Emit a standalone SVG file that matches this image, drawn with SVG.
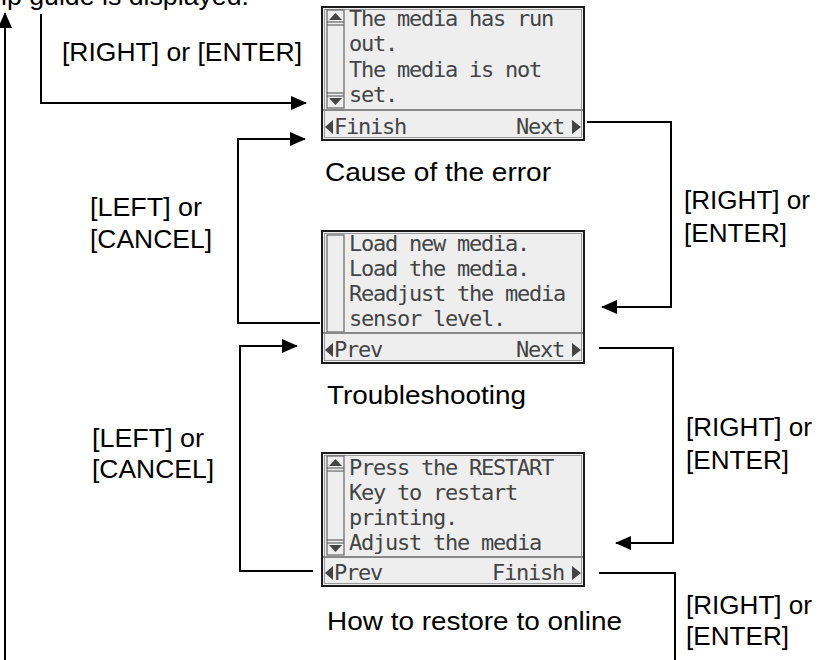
<svg xmlns="http://www.w3.org/2000/svg" width="826" height="660" viewBox="0 0 826 660">
<style>
.lbl{font-family:"Liberation Sans",Arial,sans-serif;font-size:25px;fill:#000}
.lcd{font-family:"DejaVu Sans Mono","Liberation Mono",monospace;font-size:22px;letter-spacing:-1.24px;fill:#444}
.frame{fill:#eeeeee;stroke:#1a1a1a;stroke-width:2}
.inner{fill:none;stroke:#999;stroke-width:1}
.sep{stroke:#888;stroke-width:2}
.sb{fill:#eeeeee;stroke:#666;stroke-width:1.2}
.sbl{stroke:#666;stroke-width:1.2}
.ico{fill:#444}
.conn{fill:none;stroke:#000;stroke-width:2}
</style>
<defs>
<marker id="ah" viewBox="0 0 16 14" refX="15" refY="7" markerWidth="16" markerHeight="14" markerUnits="userSpaceOnUse" orient="auto">
<path d="M0,0 L16,7 L0,14 Z" fill="#000"/>
</marker>
</defs>

<g id="connectors">
<path class="conn" d="M5,660 V13" marker-end="url(#ah)"/>
<path class="conn" d="M41,14 V103 H306" marker-end="url(#ah)"/>
<path class="conn" d="M587,122 H671 V307 H602" marker-end="url(#ah)"/>
<path class="conn" d="M320,323 H238 V139 H305" marker-end="url(#ah)"/>
<path class="conn" d="M599,348 H673 V543 H616" marker-end="url(#ah)"/>
<path class="conn" d="M313,571 H240 V346 H297" marker-end="url(#ah)"/>
<path class="conn" d="M599,573 H675 V660"/>
</g>

<g id="top-note">
<text class="lbl" x="1" y="5" textLength="248" lengthAdjust="spacingAndGlyphs">lp guide is displayed.</text>
</g>

<g id="label-right-enter-1">
<text class="lbl" x="62" y="61" textLength="240" lengthAdjust="spacingAndGlyphs">[RIGHT] or [ENTER]</text>
</g>

<g id="screen-cause">
<rect class="frame" x="322" y="7" width="262" height="133"/>
<rect class="inner" x="324.5" y="9.5" width="257" height="128"/>
<rect class="sb" x="327" y="10" width="17" height="98"/>
<line class="sbl" x1="327" y1="22" x2="344" y2="22"/>
<line class="sbl" x1="327" y1="25" x2="344" y2="25"/>
<line class="sbl" x1="327" y1="93" x2="344" y2="93"/>
<line class="sbl" x1="327" y1="96" x2="344" y2="96"/>
<polygon class="ico" points="329,20 342,20 335.5,13"/>
<polygon class="ico" points="329,98 342,98 335.5,105"/>
<line class="sep" x1="323" y1="110" x2="583" y2="110"/>
<text class="lcd" x="349" y="26">The media has run</text>
<text class="lcd" x="349" y="51">out.</text>
<text class="lcd" x="349" y="77">The media is not</text>
<text class="lcd" x="349" y="102">set.</text>
<polygon class="ico" points="325,127 333,120 333,134"/>
<text class="lcd" x="334" y="134">Finish</text>
<text class="lcd" x="516" y="134">Next</text>
<polygon class="ico" points="572,120 572,134 581,127"/>
<text class="lbl" x="325" y="181" textLength="226" lengthAdjust="spacingAndGlyphs">Cause of the error</text>
</g>

<g id="label-left-cancel-1">
<text class="lbl" x="90" y="216" textLength="112" lengthAdjust="spacingAndGlyphs">[LEFT] or</text>
<text class="lbl" x="90" y="248" textLength="122" lengthAdjust="spacingAndGlyphs">[CANCEL]</text>
</g>

<g id="label-right-enter-2">
<text class="lbl" x="684" y="209" textLength="126" lengthAdjust="spacingAndGlyphs">[RIGHT] or</text>
<text class="lbl" x="684" y="242" textLength="103" lengthAdjust="spacingAndGlyphs">[ENTER]</text>
</g>

<g id="screen-troubleshooting">
<rect class="frame" x="322" y="231" width="262" height="132"/>
<rect class="inner" x="324.5" y="233.5" width="257" height="127"/>
<rect class="sb" x="327" y="235" width="17" height="97"/>
<line class="sep" x1="323" y1="333" x2="583" y2="333"/>
<text class="lcd" x="349" y="251">Load new media.</text>
<text class="lcd" x="349" y="276">Load the media.</text>
<text class="lcd" x="349" y="301">Readjust the media</text>
<text class="lcd" x="349" y="326">sensor level.</text>
<polygon class="ico" points="325,350 333,343 333,357"/>
<text class="lcd" x="334" y="357">Prev</text>
<text class="lcd" x="516" y="357">Next</text>
<polygon class="ico" points="572,343 572,357 581,350"/>
<text class="lbl" x="327" y="404" textLength="199" lengthAdjust="spacingAndGlyphs">Troubleshooting</text>
</g>

<g id="label-left-cancel-2">
<text class="lbl" x="92" y="447" textLength="112" lengthAdjust="spacingAndGlyphs">[LEFT] or</text>
<text class="lbl" x="92" y="478" textLength="122" lengthAdjust="spacingAndGlyphs">[CANCEL]</text>
</g>

<g id="label-right-enter-3">
<text class="lbl" x="686" y="436" textLength="126" lengthAdjust="spacingAndGlyphs">[RIGHT] or</text>
<text class="lbl" x="686" y="469" textLength="103" lengthAdjust="spacingAndGlyphs">[ENTER]</text>
</g>

<g id="screen-restore">
<rect class="frame" x="322" y="453" width="262" height="133"/>
<rect class="inner" x="324.5" y="455.5" width="257" height="128"/>
<rect class="sb" x="327" y="456" width="17" height="99"/>
<line class="sbl" x1="327" y1="468" x2="344" y2="468"/>
<line class="sbl" x1="327" y1="471" x2="344" y2="471"/>
<line class="sbl" x1="327" y1="540" x2="344" y2="540"/>
<line class="sbl" x1="327" y1="543" x2="344" y2="543"/>
<polygon class="ico" points="329,466 342,466 335.5,459"/>
<polygon class="ico" points="329,545 342,545 335.5,552"/>
<line class="sep" x1="323" y1="557" x2="583" y2="557"/>
<text class="lcd" x="349" y="475">Press the RESTART</text>
<text class="lcd" x="349" y="500">Key to restart</text>
<text class="lcd" x="349" y="525">printing.</text>
<text class="lcd" x="349" y="550">Adjust the media</text>
<polygon class="ico" points="325,573 333,566 333,580"/>
<text class="lcd" x="334" y="580">Prev</text>
<text class="lcd" x="492" y="580">Finish</text>
<polygon class="ico" points="572,566 572,580 581,573"/>
<text class="lbl" x="327" y="630" textLength="295" lengthAdjust="spacingAndGlyphs">How to restore to online</text>
</g>

<g id="label-right-enter-4">
<text class="lbl" x="686" y="614" textLength="126" lengthAdjust="spacingAndGlyphs">[RIGHT] or</text>
<text class="lbl" x="686" y="645" textLength="103" lengthAdjust="spacingAndGlyphs">[ENTER]</text>
</g>
</svg>
